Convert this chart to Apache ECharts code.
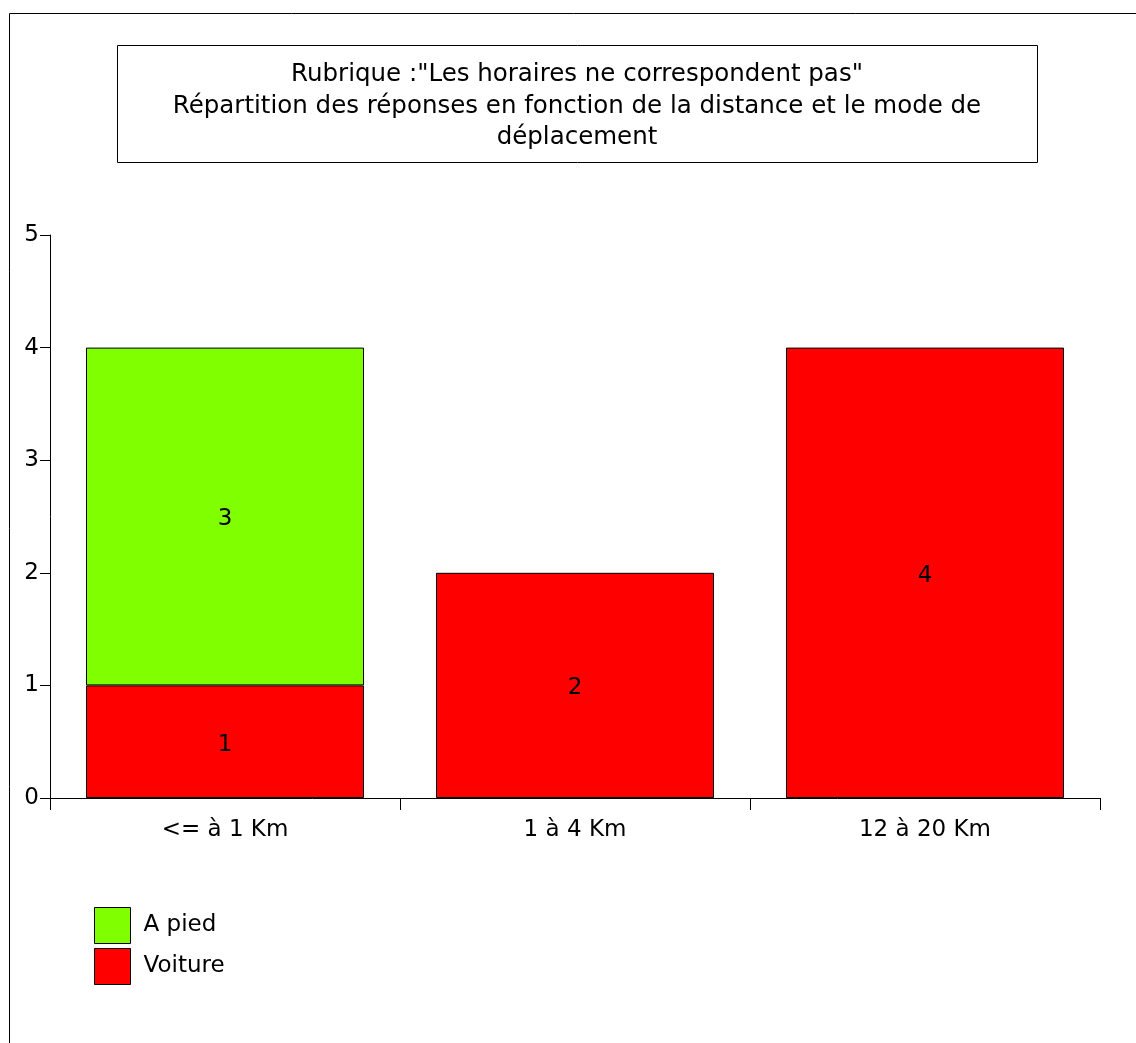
<!DOCTYPE html>
<html>
<head>
<meta charset="utf-8">
<script src="https://cdn.jsdelivr.net/npm/echarts@6/dist/echarts.min.js"></script>
<style>html,body{margin:0;padding:0;background:#fff}#c{width:1136px;height:1043px}</style>
</head>
<body>
<div id="c"></div>
<script>
var categories = ['<= à 1 Km', '1 à 4 Km', '12 à 20 Km'];
var voiture = [1, 2, 4];
var aPied = [3, null, null];
var yTicks = [0, 1, 2, 3, 4, 5];
var titleLines = ['Rubrique :"Les horaires ne correspondent pas"', 'Répartition des réponses en fonction de la distance et le mode de', 'déplacement'];

var FONT = '"DejaVu Sans", sans-serif';
var FS = 23;
var chart = echarts.init(document.getElementById('c'), null, {renderer: 'canvas'});
chart.setOption({
  animation: false,
  backgroundColor: '#fff',
  textStyle: {fontFamily: FONT},
  graphic: [
    {type: 'rect', shape: {x: 9.5, y: 13.5, width: 2000, height: 2000}, style: {fill: 'none', stroke: '#000', lineWidth: 1}, silent: true, z: -1},
    {type: 'rect', shape: {x: 117.5, y: 45.5, width: 920, height: 117}, style: {fill: '#fff', stroke: '#000', lineWidth: 1}, silent: true}
  ],
  title: {
    text: titleLines.join('\n'),
    left: 577, top: 59, textAlign: 'center', padding: 0,
    textStyle: {fontFamily: FONT, fontSize: 24.5, fontWeight: 'normal', color: '#000', lineHeight: 31.5}
  },
  legend: {
    data: ['A pied', 'Voiture'],
    orient: 'vertical',
    left: 94, top: 907, padding: 0,
    itemWidth: 36, itemHeight: 36, itemGap: 4,
    icon: 'rect',
    itemStyle: {borderWidth: 1, borderColor: '#000'},
    textStyle: {fontFamily: FONT, fontSize: FS, color: '#000', padding: [2, 0, 0, 8]}
  },
  grid: {left: 50, right: 36, top: 235, bottom: 245, containLabel: false},
  xAxis: {
    type: 'category',
    data: categories,
    axisLine: {show: true, lineStyle: {color: '#000', width: 1}},
    axisTick: {show: true, length: 12, alignWithLabel: false, lineStyle: {color: '#000'}},
    axisLabel: {fontFamily: FONT, fontSize: FS, color: '#000', margin: 21}
  },
  yAxis: {
    type: 'value', min: 0, max: 5, interval: 1,
    axisLine: {show: true, lineStyle: {color: '#000', width: 1}},
    axisTick: {show: true, length: 10, lineStyle: {color: '#000'}},
    axisLabel: {fontFamily: FONT, fontSize: FS, color: '#000', margin: 11},
    splitLine: {show: false}
  },
  series: [
    {
      name: 'Voiture', type: 'bar', stack: 'a', data: voiture, barWidth: 278,
      itemStyle: {color: '#FF0000', borderColor: '#000', borderWidth: 1},
      label: {show: true, position: 'inside', offset: [0, 3], fontFamily: FONT, fontSize: FS, color: '#000'}
    },
    {
      name: 'A pied', type: 'bar', stack: 'a', data: aPied, barWidth: 278,
      itemStyle: {color: '#80FF00', borderColor: '#000', borderWidth: 1},
      label: {show: true, position: 'inside', offset: [0, 3], fontFamily: FONT, fontSize: FS, color: '#000'}
    }
  ]
});
</script>
</body>
</html>
